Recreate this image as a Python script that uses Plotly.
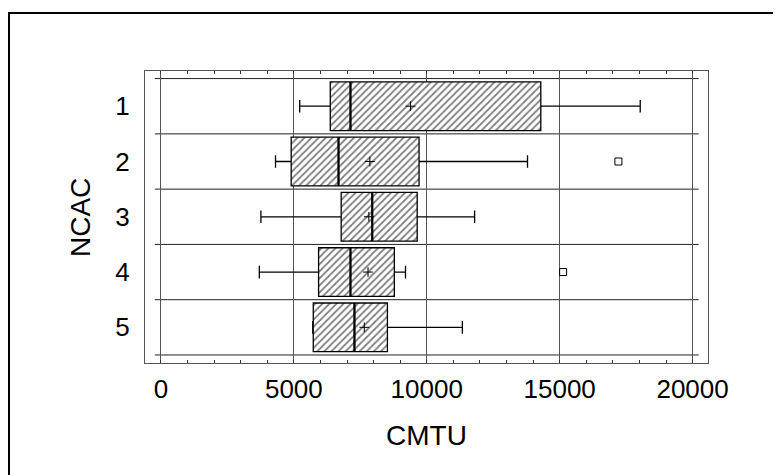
import plotly.graph_objects as go

categories = ["1", "2", "3", "4", "5"]
lower_whisker = [5220, 4310, 3760, 3700, 5710]
q1 = [6370, 4900, 6780, 5930, 5730]
median = [7130, 6680, 7950, 7130, 7280]
q3 = [14290, 9710, 9640, 8780, 8520]
upper_whisker = [18030, 13790, 11800, 9200, 11340]
mean = [9390, 7860, 7820, 7790, 7650]
outlier_cat = ["2", "4"]
outlier_val = [17210, 15130]
x_ticks = [0, 5000, 10000, 15000, 20000]

W, H = 781, 475
ML, MR, MT, MB = 137, 81, 63, 120
PW, PH = W - ML - MR, H - MT - MB
FONT = "Liberation Sans, Arial, sans-serif"
BOXW = 0.88
HALF = BOXW / 2

ypos = [int(c) for c in categories]
out_ypos = [int(c) for c in outlier_cat]

fig = go.Figure()

# hatched box fill
fig.add_trace(go.Bar(
    y=ypos, x=[b - a for a, b in zip(q1, q3)], base=q1,
    orientation="h", width=BOXW,
    marker=dict(color="white", line=dict(width=0),
                pattern=dict(shape="/", fgcolor="black", bgcolor="white",
                             size=5, solidity=0.35)),
    showlegend=False, hoverinfo="skip"))

# box outline + whiskers
fig.add_trace(go.Box(
    y=ypos, q1=q1, median=median, q3=q3,
    lowerfence=lower_whisker, upperfence=upper_whisker,
    orientation="h", width=BOXW, whiskerwidth=0.26,
    fillcolor="rgba(0,0,0,0)", line=dict(color="black", width=1.3),
    boxpoints=False, showlegend=False))

# thicker median line
med_x, med_y = [], []
for y, m in zip(ypos, median):
    med_x += [m, m, None]
    med_y += [y - HALF, y + HALF, None]
fig.add_trace(go.Scatter(
    x=med_x, y=med_y, mode="lines",
    line=dict(color="black", width=2.2),
    showlegend=False, hoverinfo="skip"))

# mean markers
fig.add_trace(go.Scatter(
    x=mean, y=ypos, mode="markers",
    marker=dict(symbol="cross-thin", size=7, line=dict(width=1, color="black")),
    showlegend=False))

# outliers
fig.add_trace(go.Scatter(
    x=outlier_val, y=out_ypos, mode="markers",
    marker=dict(symbol="square-open", size=7, color="black", line=dict(width=1)),
    showlegend=False))

shapes = []
for i in range(len(categories) + 1):
    shapes.append(dict(type="line", xref="x", yref="y",
                       x0=-230, x1=20230, y0=i + 0.5, y1=i + 0.5,
                       line=dict(color="#222", width=1), layer="below"))
# outer frame
shapes.append(dict(type="rect", xref="paper", yref="paper",
                   x0=(1 - ML) / PW, x1=1.3, y0=-0.6, y1=(PH + MT - 5) / PH,
                   line=dict(color="black", width=2)))

fig.update_layout(
    width=W, height=H,
    margin=dict(l=ML, r=MR, t=MT, b=MB),
    paper_bgcolor="white", plot_bgcolor="white",
    font=dict(family=FONT, size=26, color="black"),
    barmode="overlay", boxmode="overlay",
    shapes=shapes,
    annotations=[
        dict(text="CMTU", xref="paper", yref="paper", x=0.5, y=(MT + PH - 427) / PH,
             xanchor="center", yanchor="middle", showarrow=False,
             font=dict(size=28, family=FONT)),
        dict(text="NCAC", xref="paper", yref="paper", x=(72 - ML) / PW, y=(MT + PH - 210) / PH,
             xanchor="center", yanchor="middle", showarrow=False, textangle=-90,
             font=dict(size=28, family=FONT)),
    ],
)
fig.update_xaxes(
    range=[-600, 20580], tickvals=x_ticks, ticktext=[str(v) for v in x_ticks],
    showgrid=True, gridcolor="#555", gridwidth=1, zeroline=False,
    showline=True, linecolor="#555", linewidth=1, mirror="ticks",
    ticks="inside", ticklen=3, tickcolor="#333",
    minor=dict(dtick=1000, tick0=0, ticks="inside", ticklen=3, tickcolor="#333", showgrid=False),
    ticklabelstandoff=3, tickfont=dict(size=26),
)
fig.update_yaxes(
    range=[5.645, 0.363], tickvals=ypos, ticktext=categories,
    showgrid=False, zeroline=False,
    showline=True, linecolor="#555", linewidth=1, mirror=True,
    ticks="", ticklabelstandoff=9, tickfont=dict(size=26),
)

fig.write_html("out.html")
